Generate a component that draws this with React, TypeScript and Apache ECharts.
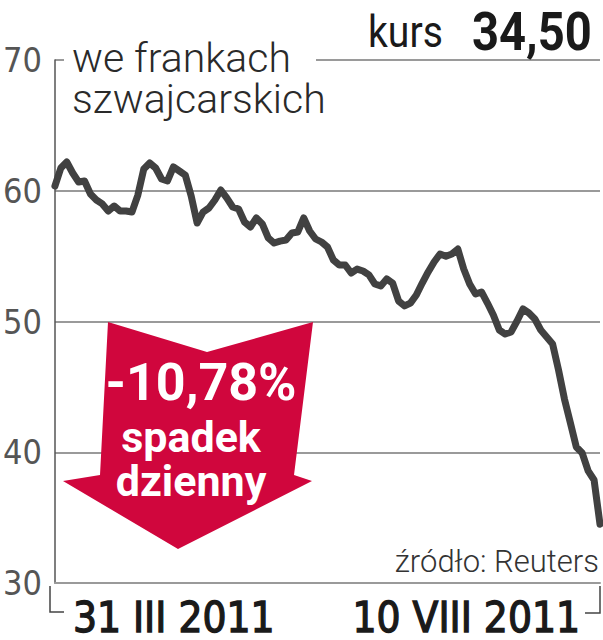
import React, { useEffect, useRef } from 'react';
import * as echarts from 'echarts';

// Daily closing price (CHF), 31 III 2011 – 10 VIII 2011
const prices = [
  60.36, 61.74, 62.2, 61.36, 60.67, 60.75, 59.75, 59.29, 58.99, 58.45,
  58.83, 58.45, 58.45, 58.37, 59.67, 61.66, 62.12, 61.74, 60.9, 60.75,
  61.82, 61.51, 61.2, 59.6, 57.53, 58.37, 58.68, 59.29, 60.06, 59.45,
  58.76, 58.6, 57.61, 57.23, 57.92, 57.46, 56.39, 56.0, 56.15, 56.23,
  56.77, 56.85, 57.92, 56.92, 56.31, 56.08, 55.7, 54.7, 54.32, 54.32,
  53.71, 54.01, 53.86, 53.56, 52.87, 52.72, 53.25, 52.94, 51.57, 51.19,
  51.41, 52.03, 52.94, 53.79, 54.55, 55.16, 54.99, 55.16, 55.54, 54.01,
  52.87, 52.1, 52.26, 51.41, 50.5, 49.35, 49.04, 49.2, 50.04, 50.96,
  50.65, 50.19, 49.35, 48.82, 48.28, 46.29, 44.07, 42.24, 40.4, 39.94,
  38.57, 37.88, 34.5,
];
const xLabels = ['31 III 2011', '10 VIII 2011'];
const yMin = 30;
const yMax = 70;
const yStep = 10;
const titleLines = ['we frankach', 'szwajcarskich'];
const rateLabel = 'kurs';
const rateValue = '34,50';
const changeLines = ['-10,78%', 'spadek', 'dzienny'];
const sourceText = 'źródło: Reuters';

const NARROW = "'Liberation Sans Narrow', 'DejaVu Sans Condensed', Roboto, sans-serif";
const SANS = "Roboto, 'Noto Sans', sans-serif";

export default function App() {
  const ref = useRef<HTMLDivElement>(null);
  useEffect(() => {
    const chart = echarts.init(ref.current!, null, { renderer: 'svg' });
    const categories = prices.map((_, i) =>
      i === 0 ? xLabels[0] : i === prices.length - 1 ? xLabels[1] : ''
    );
    const xLabelStyle = {
      fontFamily: NARROW, fontSize: 42, lineHeight: 38, fontWeight: 'normal', color: '#1a1a1a',
      textBorderColor: '#1a1a1a', textBorderWidth: 1.3,
    };
    chart.setOption({
      animation: false,
      backgroundColor: '#ffffff',
      grid: { left: 48, right: 3, top: 60, bottom: 57, containLabel: false },
      xAxis: {
        type: 'category',
        data: categories,
        boundaryGap: false,
        axisLine: { lineStyle: { color: '#9a9a9a', width: 2 } },
        axisTick: { show: false },
        splitLine: { show: false },
        axisLabel: {
          interval: 0,
          margin: 15,
          alignMinLabel: 'left',
          alignMaxLabel: 'right',
          ...xLabelStyle,
          formatter: (v: string, i: number) =>
            v === '' ? '' : i === 0 ? `{l|${v}}` : `{r|${v}}`,
          rich: {
            l: { padding: [0, 0, 0, 18], ...xLabelStyle },
            r: { padding: [0, 20, 0, 0], ...xLabelStyle },
          },
        },
      },
      yAxis: {
        type: 'value',
        min: yMin,
        max: yMax,
        interval: yStep,
        axisLine: { show: true, lineStyle: { color: '#555555', width: 1.5 } },
        axisTick: { show: false },
        splitLine: { lineStyle: { color: '#9a9a9a', width: 2 } },
        axisLabel: { margin: 13, color: '#555555', fontFamily: NARROW, fontSize: 34 },
      },
      series: [
        {
          type: 'line',
          data: prices,
          showSymbol: false,
          silent: true,
          lineStyle: { color: '#414141', width: 7, cap: 'round', join: 'round' },
          z: 3,
        },
      ],
      graphic: [
        { type: 'rect', z: 5, shape: { x: 64, y: 52, width: 252, height: 16 }, style: { fill: '#ffffff' } },
        {
          type: 'text', z: 6, x: 72, y: 78.5,
          style: {
            text: titleLines.join('\n'), fontFamily: SANS, fontWeight: 300, fontSize: 41,
            lineHeight: 41, fill: '#2a2a2a', verticalAlign: 'middle',
          },
        },
        {
          type: 'text', z: 6, x: 368, y: 32, scaleX: 0.87,
          style: { text: rateLabel, fontFamily: SANS, fontWeight: 400, fontSize: 45, fill: '#1a1a1a', verticalAlign: 'middle' },
        },
        {
          type: 'text', z: 6, x: 472, y: 32, scaleX: 0.89,
          style: { text: rateValue, fontFamily: SANS, fontWeight: 700, fontSize: 53, fill: '#1a1a1a', verticalAlign: 'middle' },
        },
        {
          type: 'polygon', z: 5,
          shape: {
            points: [
              [108, 322], [207, 352], [313, 322], [294, 475], [312, 481],
              [178, 549], [63, 481], [100, 475],
            ],
          },
          style: { fill: '#d0063d' },
        },
        {
          type: 'text', z: 6, x: 201, y: 382,
          style: { text: changeLines[0], fontFamily: SANS, fontWeight: 700, fontSize: 52, fill: '#ffffff', align: 'center', verticalAlign: 'middle' },
        },
        {
          type: 'text', z: 6, x: 191, y: 458.5,
          style: {
            text: changeLines.slice(1).join('\n'), fontFamily: SANS, fontWeight: 700, fontSize: 43,
            lineHeight: 44, fill: '#ffffff', align: 'center', verticalAlign: 'middle',
          },
        },
        {
          type: 'text', z: 6, x: 599, y: 561,
          style: { text: sourceText, fontFamily: SANS, fontWeight: 300, fontSize: 31, fill: '#333333', align: 'right', verticalAlign: 'middle' },
        },
        {
          type: 'polyline', z: 5,
          shape: { points: [[50, 586], [50, 612], [64, 612]] },
          style: { stroke: '#444444', lineWidth: 1.5, fill: null },
        },
        {
          type: 'polyline', z: 5,
          shape: { points: [[585, 613], [600, 613], [600, 586]] },
          style: { stroke: '#444444', lineWidth: 1.5, fill: null },
        },
      ],
    });
    return () => chart.dispose();
  }, []);
  return (
    <div
      ref={ref}
      style={{ position: 'fixed', left: 0, top: 0, width: 603, height: 640, background: '#fff' }}
    />
  );
}
